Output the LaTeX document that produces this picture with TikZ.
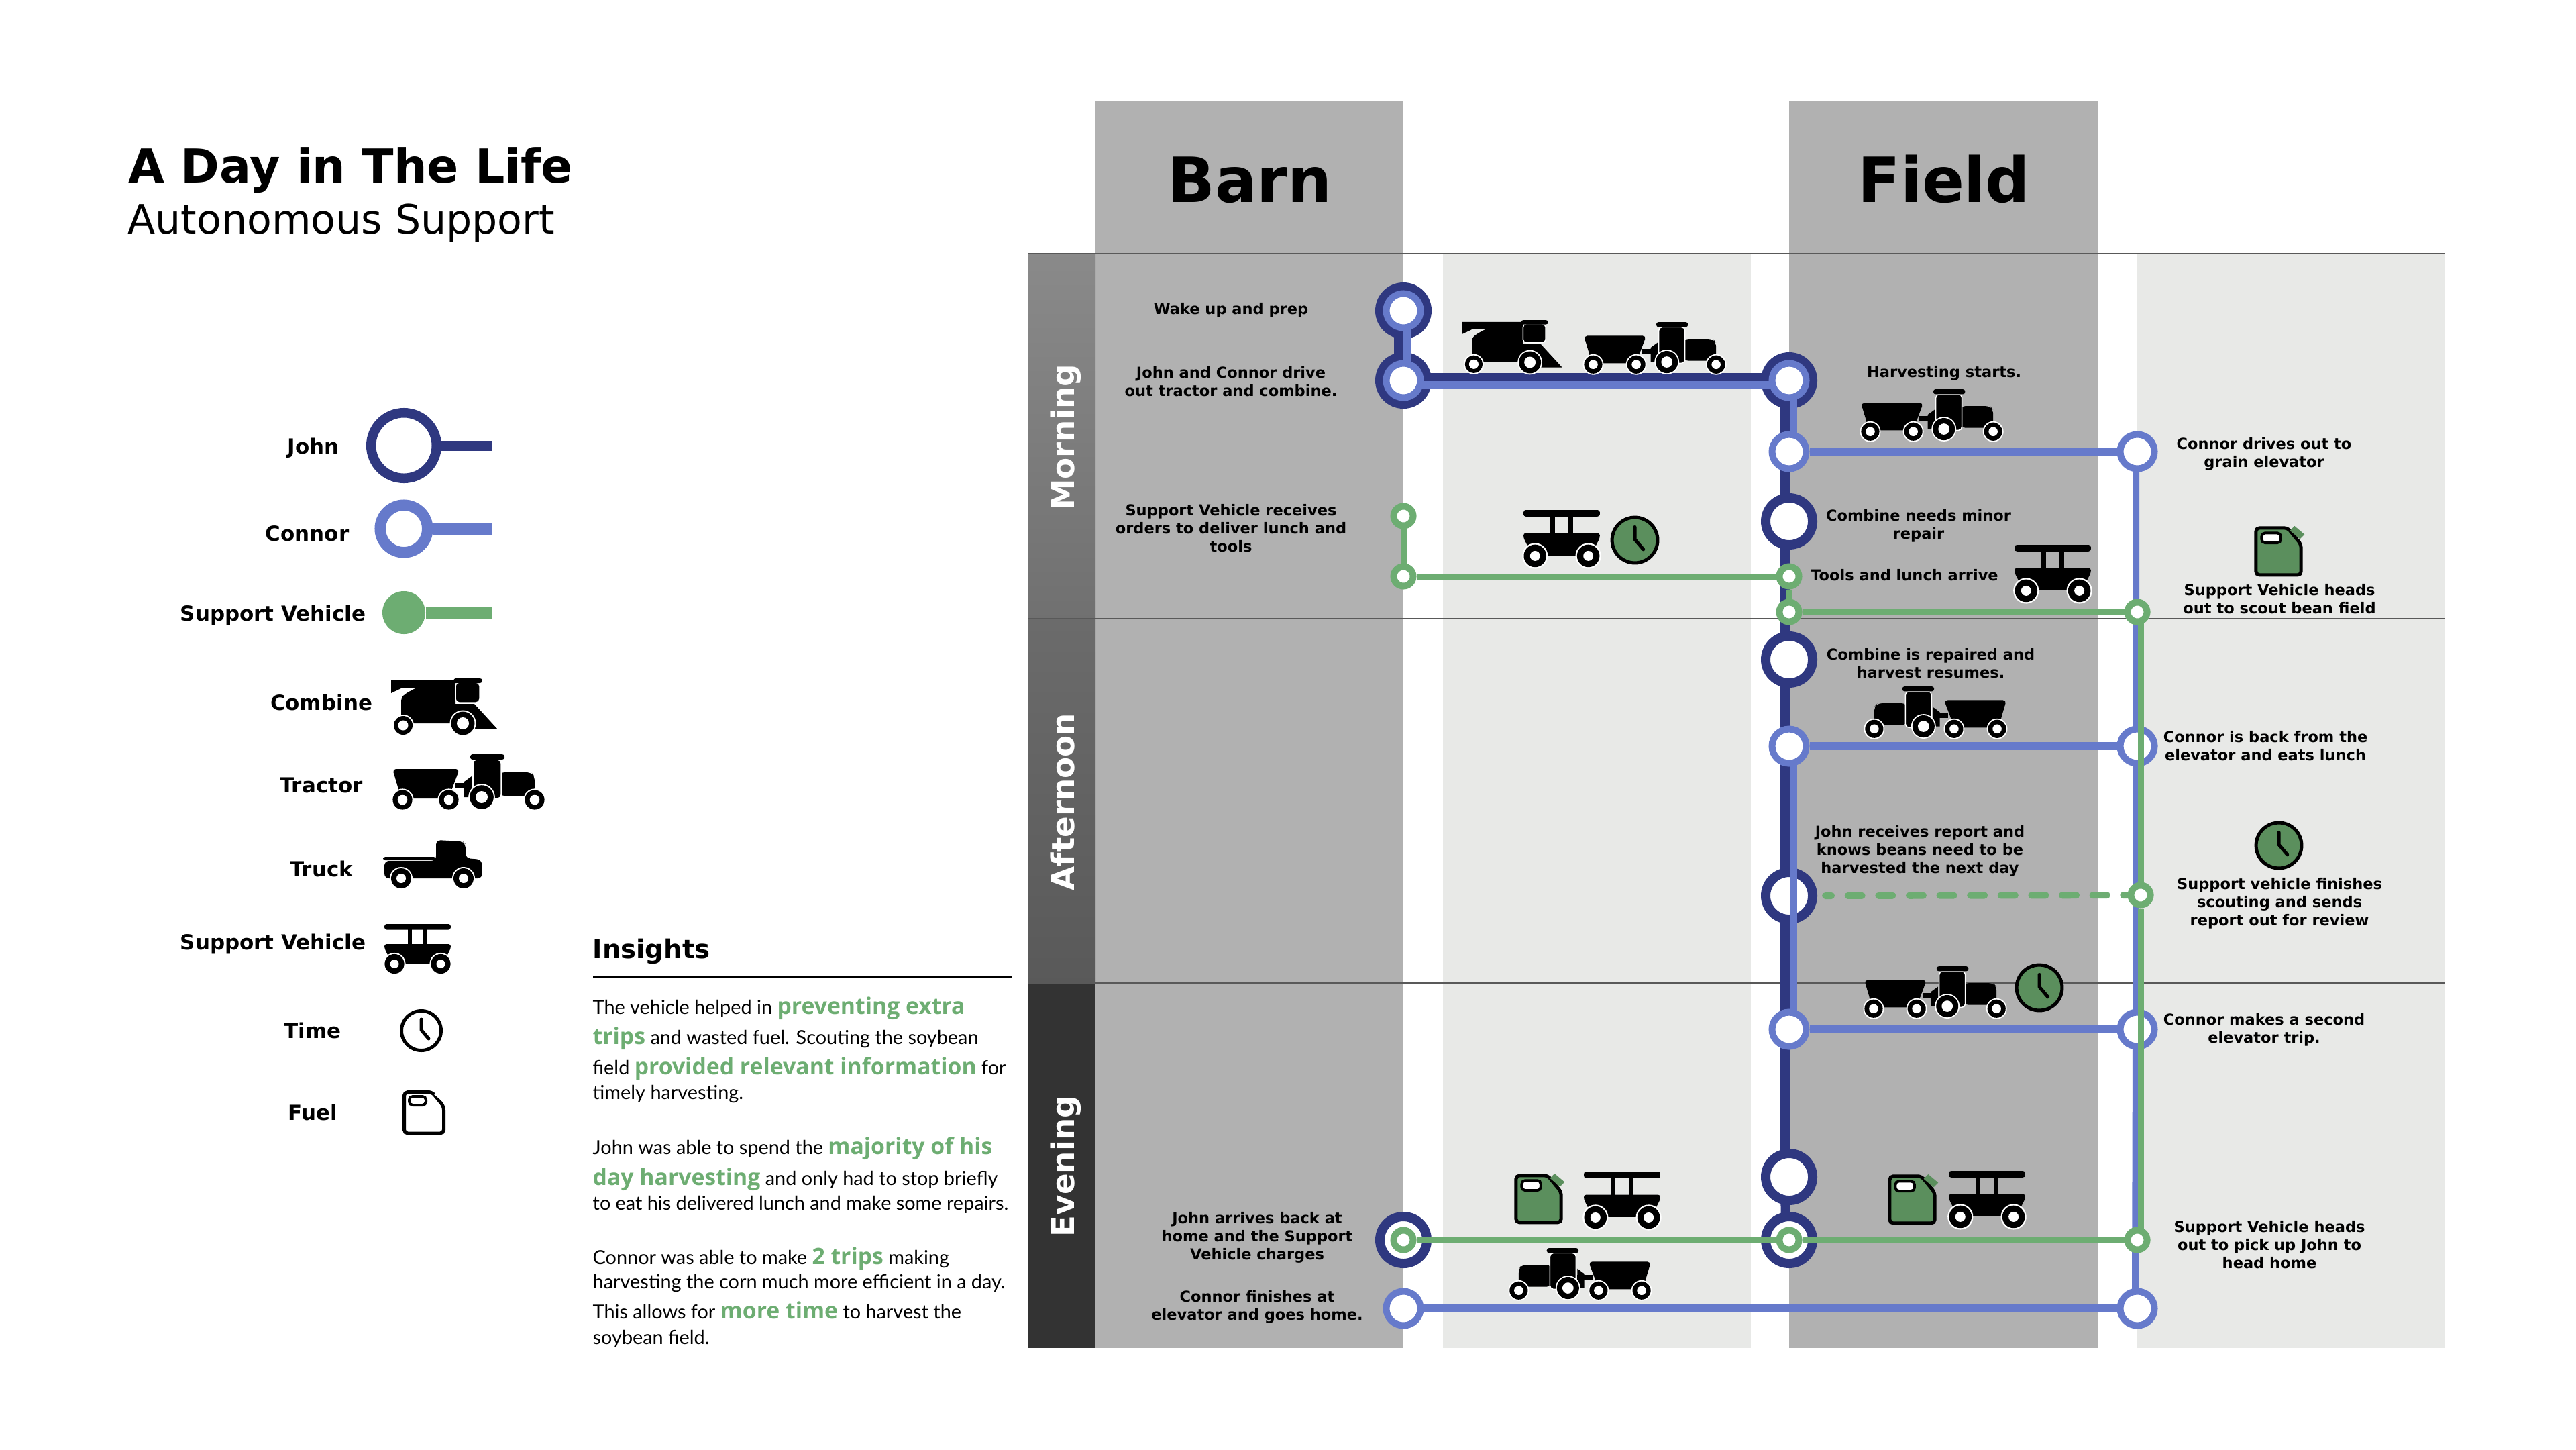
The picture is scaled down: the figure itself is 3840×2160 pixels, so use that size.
\documentclass[tikz,border=0pt]{standalone}
\usepackage{xcolor}
\usepackage{fontspec}
\usepackage{tikz}
\usetikzlibrary{calc}
\setmainfont{DejaVu Sans}
\newfontfamily\bodyfont{Lato}
\newfontfamily\boldbody{Open Sans}

\definecolor{johnblue}{HTML}{2F3880}
\definecolor{connorblue}{HTML}{667ACB}
\definecolor{vgreen}{HTML}{6DAD72}
\definecolor{icongreen}{HTML}{5B8F5D}
\definecolor{colgray}{HTML}{B1B1B1}
\definecolor{collight}{HTML}{E8E9E7}

\pgfdeclarelayer{bands}
\pgfdeclarelayer{jlines}
\pgfdeclarelayer{jstops}
\pgfdeclarelayer{clines}
\pgfdeclarelayer{cstops}
\pgfdeclarelayer{glines}
\pgfsetlayers{bands,jlines,jstops,clines,cstops,glines,main}

\newcommand{\vwheel}[4]{%
  \fill[white] (#1,#2) circle ({#3+2});
  \fill[black] (#1,#2) circle (#3);
  \fill[white] (#1,#2) circle (#4);}
\newcommand{\gtxt}[1]{{\boldbody\fontsize{9.6}{10}\selectfont\bfseries\color{vgreen}#1}}

\tikzset{
  combine/.pic={
    \fill (0,3) -- (96,3) -- (96,38) -- (124,38) -- (158,75) -- (125,75) -- (110,67) -- (15,67)
      -- (15,33) .. controls (15,26) and (22,22) .. (38,14) -- (17,14) -- (0,22) -- cycle;
    \fill[draw=white, line width=.015cm, rounded corners=1.5pt] (96,6) -- (96,36) -- (132,36) -- (132,6) -- cycle;
    \fill[rounded corners=1pt] (93,0) rectangle (136,7);
    \vwheel{18}{70}{14}{7.5}
    \vwheel{107}{67}{17.5}{9}
  },
  tractor/.pic={
    \fill[rounded corners=1.5pt] (0,22) -- (100,22) -- (88,54) -- (82,66) -- (10,66) -- (9,52) -- cycle;
    \fill (94,43) rectangle (118,51);
    \fill (107,41) -- (118,33) -- (118,64) -- (107,64) -- cycle;
    \fill[rounded corners=2pt] (160,27) -- (207,27) -- (212,33) -- (212,62) -- (160,62) -- cycle;
    \fill[draw=white, line width=.015cm, rounded corners=1.5pt] (120,8) -- (120,66) -- (162,66) -- (162,8) -- cycle;
    \fill[rounded corners=1pt] (116,0) rectangle (167,8);
    \vwheel{15}{68}{14.6}{7.3}
    \vwheel{84}{68}{14.6}{7.3}
    \vwheel{133}{64}{17.8}{9}
    \vwheel{212}{68}{14.6}{7.3}
  },
  truck/.pic={
    \fill[rounded corners=2pt] (79,0) -- (119,2) -- (123,6) -- (123,27) -- (147,29) -- (148,57) -- (2,57) -- (2,31)
      -- (79,31) -- cycle;
    \fill[rounded corners=1pt] (0,25) rectangle (79,30);
    \vwheel{27}{57}{15}{7}
    \vwheel{120}{57}{15}{7}
  },
  supportcar/.pic={
    \fill[rounded corners=1pt] (0,0) rectangle (99,8.5);
    \fill (35,8) rectangle (41,31);
    \fill (58,8) rectangle (64,31);
    \fill[rounded corners=1pt] (0,30) -- (99,30) -- (99,36) -- (91,52) -- (91,59) -- (8,59) -- (8,52) -- (0,36) -- cycle;
    \vwheel{15}{59.5}{14.6}{6.5}
    \vwheel{84}{59.5}{14.6}{6.5}
  },
  clockface/.pic={
    \draw[pic actions, line width=.05cm] (0,0) circle (29.5);
    \draw[line width=.05cm, line cap=round, line join=round] (0,-17) -- (0,-1) -- (11,12);
  },
  fuelcan/.pic={
    \draw[pic actions, line width=.05cm, rounded corners=1.5pt] (2.5,2.5) -- (44,2.5) -- (61.5,24) -- (61.5,64) -- (2.5,64) -- cycle;
    \fill (53,0) -- (66,11) -- (60,17) -- (47,6) -- cycle;
    \draw[fill=white, line width=.04cm, rounded corners=1.5pt] (10,9) rectangle (35,22);
  }
}

\begin{document}
\begin{tikzpicture}[
  x=0.01cm, y=-0.01cm,
  jstop/.style={circle, draw=johnblue, fill=white, line width=.14cm, minimum size=.70cm, inner sep=0pt},
  cstop/.style={circle, draw=connorblue, fill=white, line width=.10cm, minimum size=.51cm, inner sep=0pt},
  gstop/.style={circle, draw=vgreen, fill=white, line width=.10cm, minimum size=.29cm, inner sep=0pt},
  jline/.style={draw=johnblue, line width=.14cm},
  cline/.style={draw=connorblue, line width=.115cm},
  gline/.style={draw=vgreen, line width=.09cm},
  lbl/.style={font=\fontsize{6.4}{7.7}\selectfont\bfseries, align=center, inner sep=0pt},
  leg/.style={font=\fontsize{8.8}{10}\selectfont\bfseries, anchor=base, inner sep=0pt},
  hdr/.style={font=\fontsize{26.4}{30}\selectfont\bfseries, anchor=base, inner sep=0pt},
  bandlbl/.style={font=\fontsize{13.3}{15}\selectfont\bfseries, text=white, rotate=90, anchor=base, inner sep=0pt},
  bodyline/.style={font=\bodyfont\fontsize{8.2}{9}\selectfont, anchor=base west, inner sep=0pt}
]
\useasboundingbox (0,0) rectangle (3840,2160);

\begin{pgfonlayer}{bands}
% columns and day parts
\fill[colgray] (1633,151) rectangle (2092,2009);
\fill[colgray] (2667,151) rectangle (3127,2009);
\fill[collight] (2151,378) rectangle (2610,2009);
\fill[collight] (3186,378) rectangle (3645,2009);
\shade[top color=black!46, bottom color=black!56] (1532,378) rectangle (1633,922);
\shade[top color=black!58, bottom color=black!65] (1532,922) rectangle (1633,1465);
\fill[black!80] (1532,1465) rectangle (1633,2009);
\foreach \yy in {378,922,1465}
  \draw[black!65, line width=.02cm] (1532,\yy) -- (3645,\yy);
\end{pgfonlayer}

% heading
\node[font=\fontsize{19.8}{22}\selectfont\bfseries, anchor=base west, inner sep=0pt] (title) at (191,272) {A Day in The Life};
\node[font=\fontsize{17.1}{20}\selectfont, anchor=base west, inner sep=0pt] (subtitle) at (190,348) {Autonomous Support};
\node[hdr] (barn) at (1863,301) {Barn};
\node[hdr] (field) at (2898,301) {Field};
\node[bandlbl] (morning) at (1601,652) {Morning};
\node[bandlbl] (afternoon) at (1601,1195) {Afternoon};
\node[bandlbl] (evening) at (1601,1738) {Evening};

% John
\begin{pgfonlayer}{jstops}
\node[jstop] (j1) at (2092,463) {};
\node[jstop] (j2) at (2092,567) {};
\node[jstop] (j3) at (2667,567) {};
\node[jstop] (j4) at (2667,777) {};
\node[jstop] (j5) at (2667,983) {};
\node[jstop] (j6) at (2667,1335) {};
\node[jstop] (j7) at (2667,1754) {};
\node[jstop] (j8) at (2667,1848) {};
\node[jstop] (j9) at (2092,1848) {};
\node[circle, draw=johnblue, fill=white, line width=.145cm, minimum size=.975cm, inner sep=0pt] (legj) at (602,664) {};
\end{pgfonlayer}

% Connor
\begin{pgfonlayer}{cstops}
\node[cstop] (c1) at (2092,463) {};
\node[cstop] (c2) at (2092,567) {};
\node[cstop] (c3) at (2667,567) {};
\node[cstop] (c4) at (2667,673) {};
\node[cstop] (c5) at (3186,673) {};
\node[cstop] (c6) at (2667,1112) {};
\node[cstop] (c7) at (3186,1112) {};
\node[cstop] (c8) at (2667,1534) {};
\node[cstop] (c9) at (3186,1534) {};
\node[cstop] (c10) at (3186,1950) {};
\node[cstop] (c11) at (2092,1950) {};
\node[circle, draw=connorblue, fill=white, line width=.165cm, minimum size=.705cm, inner sep=0pt] (legc) at (602,788) {};
\end{pgfonlayer}

% support vehicle
\node[gstop] (g1) at (2092,769) {};
\node[gstop] (g2) at (2092,859) {};
\node[gstop] (g3) at (2667,859) {};
\node[gstop] (g4) at (2667,912) {};
\node[gstop] (g5) at (3186,912) {};
\node[gstop] (g6) at (3191,1334) {};
\node[gstop] (g7) at (3186,1848) {};
\node[gstop] (g8) at (2667,1848) {};
\node[gstop] (g9) at (2092,1848) {};
\node[circle, fill=vgreen, minimum size=.64cm, inner sep=0pt] (legg) at (602,913) {};

\coordinate (legjend) at (733,664);
\coordinate (legcend) at (734,788);
\coordinate (leggend) at (734,913);

\begin{pgfonlayer}{jlines}
\draw[jline, line width=.13cm] ($(j1)+(-8,0)$) -- ($(j2)+(-8,0)$);
\draw[jline, line width=.125cm] ($(j2)+(0,-5)$) -- ($(j3)+(0,-5)$);
\draw[jline] ($(j3)+(-6,0)$) -- ($(j4)+(-6,0)$) -- ($(j5)+(-6,0)$) -- ($(j6)+(-6,0)$) -- ($(j7)+(-6,0)$) -- ($(j8)+(-5,0)$);
\draw[jline, line width=.15cm] (legj) -- (legjend);
\end{pgfonlayer}

\begin{pgfonlayer}{clines}
\draw[cline] ($(c1)+(5,0)$) -- ($(c2)+(5,0)$);
\draw[cline] ($(c2)+(0,7)$) -- ($(c3)+(0,7)$);
\draw[cline, line width=.10cm] ($(c3)+(7,0)$) -- ($(c4)+(7,0)$);
\draw[cline] (c4) -- (c5);
\draw[cline, line width=.10cm] ($(c5)+(-2,0)$) -- ($(c7)+(-2,0)$) -- ($(c9)+(-2,0)$) -- ($(c10)+(-3,0)$);
\draw[cline] (c6) -- (c7);
\draw[cline, line width=.10cm] ($(c6)+(7,0)$) -- ($(c8)+(7,0)$);
\draw[cline] (c8) -- (c9);
\draw[cline] (c11) -- (c10);
\draw[cline, line width=.17cm] (legc) -- (legcend);
\end{pgfonlayer}

\begin{pgfonlayer}{glines}
\draw[gline] (g1) -- (g2);
\draw[gline] (g2) -- (g3);
\draw[gline] (g3) -- (g4);
\draw[gline] (g4) -- (g5);
\draw[gline] ($(g5)+(5,0)$) -- (g6) -- ($(g7)+(5,0)$);
\draw[gline] (g9) -- (g8);
\draw[gline] (g8) -- (g7);
\draw[gline, line width=.10cm, line cap=round, dash pattern=on .21cm off .246cm, dash phase=.12cm] ($(j6.east)+(12,0)$) -- (g6);
\draw[gline, line width=.17cm] (legg) -- (leggend);
\end{pgfonlayer}

% stop captions
\node[lbl] (t1) at (1835,462) {Wake up and prep};
\node[lbl] (t2) at (1835,569) {John and Connor drive\\out tractor and combine.};
\node[lbl] (t3) at (1835,787) {Support Vehicle receives\\orders to deliver lunch and\\tools};
\node[lbl] (t4) at (2898,556) {Harvesting starts.};
\node[lbl] (t5) at (3375,677) {Connor drives out to\\grain elevator};
\node[lbl] (t6) at (2860,784) {Combine needs minor\\repair};
\node[lbl] (t7) at (2839,857) {Tools and lunch arrive};
\node[lbl] (t8) at (3398,893) {Support Vehicle heads\\out to scout bean field};
\node[lbl] (t9) at (2878,989) {Combine is repaired and\\harvest resumes.};
\node[lbl] (t10) at (3377,1112) {Connor is back from the\\elevator and eats lunch};
\node[lbl] (t11) at (2862,1268) {John receives report and\\knows beans need to be\\harvested the next day};
\node[lbl] (t12) at (3398,1346) {Support vehicle finishes\\scouting and sends\\report out for review};
\node[lbl] (t13) at (3375,1535) {Connor makes a second\\elevator trip.};
\node[lbl] (t14) at (3383,1855) {Support Vehicle heads\\out to pick up John to\\head home};
\node[lbl] (t15) at (1874,1844) {John arrives back at\\home and the Support\\Vehicle charges};
\node[lbl] (t16) at (1874,1948) {Connor finishes at\\elevator and goes home.};

% vehicles on the route
\pic[scale=.94] at (2180,477) {combine};
\pic[scale=.93] at (2361,480) {tractor};
\pic[scale=1.15] at (2271,760) {supportcar};
\pic[scale=1.15, fill=icongreen] at (2437,805) {clockface};
\pic[scale=.93] at (2774,580) {tractor};
\pic[scale=1.14, fill=icongreen] at (3360,784) {fuelcan};
\pic[scale=1.15] at (3003,812) {supportcar};
\pic[xscale=-.93, yscale=.93] at (2991,1023) {tractor};
\pic[scale=1.15, fill=icongreen] at (3397,1260) {clockface};
\pic[scale=.93] at (2779,1440) {tractor};
\pic[scale=1.15, fill=icongreen] at (3040,1472) {clockface};
\pic[scale=1.14, fill=icongreen] at (2814,1750) {fuelcan};
\pic[scale=1.15] at (2905,1745) {supportcar};
\pic[scale=1.14, fill=icongreen] at (2257,1749) {fuelcan};
\pic[scale=1.15] at (2361,1746) {supportcar};
\pic[xscale=-.93, yscale=.93] at (2461,1860) {tractor};

% legend
\node[leg] (lj) at (467,676) {John};
\node[leg] (lc) at (458,806) {Connor};
\node[leg] (lg) at (407,925) {Support Vehicle};
\node[leg] (lb) at (479,1058) {Combine};
\node[leg] (lt) at (479,1181) {Tractor};
\node[leg] (lk) at (479,1306) {Truck};
\node[leg] (ls) at (407,1415) {Support Vehicle};
\node[leg] (lm) at (466,1547) {Time};
\node[leg] (lf) at (466,1669) {Fuel};
\pic at (583,1011) {combine};
\pic at (585,1124) {tractor};
\pic at (571,1252) {truck};
\pic at (573,1377) {supportcar};
\pic[fill=white] at (628,1536) {clockface};
\pic[fill=white] at (600,1625) {fuelcan};

% insights
\node[font=\fontsize{11}{13}\selectfont\bfseries, anchor=base west, inner sep=0pt] (ins) at (883,1428) {Insights};
\coordinate (rulea) at (884,1456);
\coordinate (ruleb) at (1509,1456);
\draw[line width=.035cm] (rulea) -- (ruleb);
\foreach \yy/\txt [count=\ii] in {
  1511/{The vehicle helped in \gtxt{preventing extra}},
  1556/{\gtxt{trips} and wasted fuel. Scouting the soybean},
  1601/{field \gtxt{provided relevant information} for},
  1638/{timely harvesting.},
  1720/{John was able to spend the \gtxt{majority of his}},
  1766/{\gtxt{day harvesting} and only had to stop briefly},
  1803/{to eat his delivered lunch and make some repairs.},
  1884/{Connor was able to make \gtxt{2 trips} making},
  1920/{harvesting the corn much more efficient in a day.},
  1965/{This allows for \gtxt{more time} to harvest the},
  2003/{soybean field.}}
  \node[bodyline] (body\ii) at (883,\yy) {\txt};

\end{tikzpicture}
\end{document}
